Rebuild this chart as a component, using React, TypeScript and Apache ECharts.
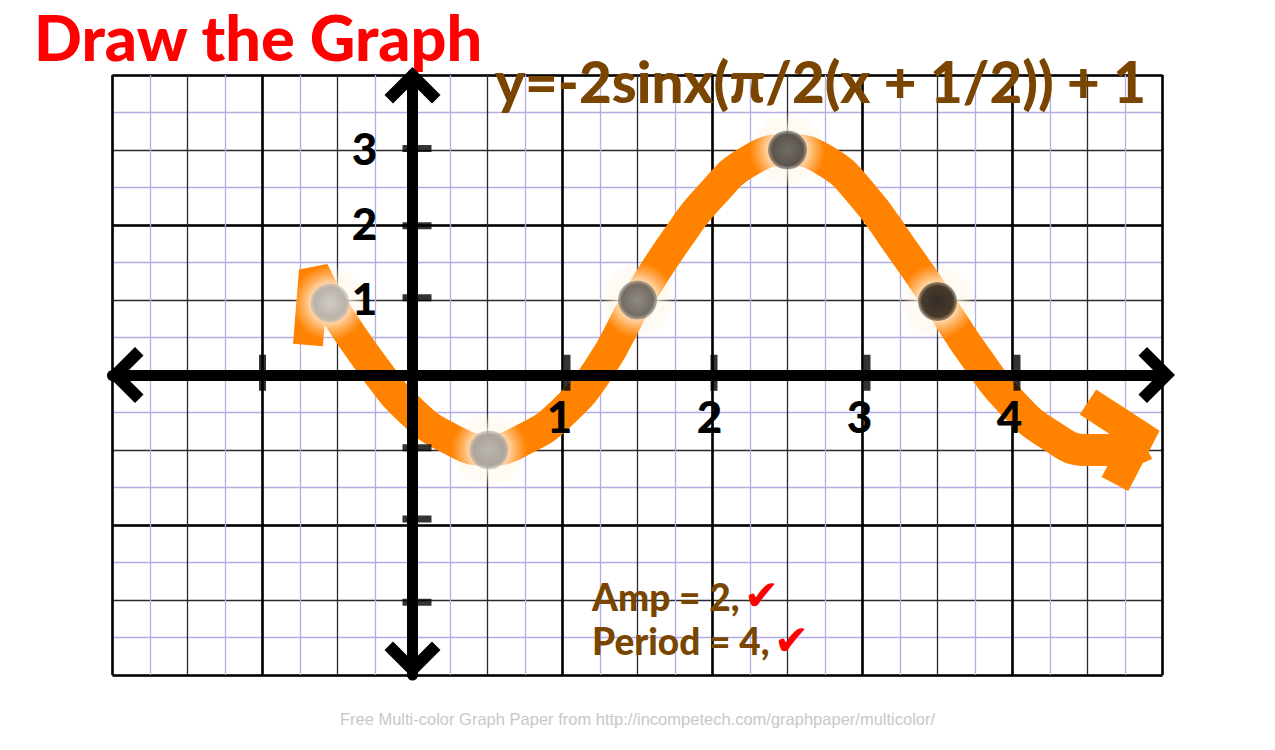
import React, { useEffect, useRef } from 'react';
import * as echarts from 'echarts';

// texts on the sheet
const titleText = 'Draw the Graph';
const formulaText = 'y=-2sinx(π/2(x + 1/2)) + 1';
const ampText = 'Amp = 2,';
const periodText = 'Period = 4,';
const checkText = '✔';
const footerText = 'Free Multi-color Graph Paper from http://incompetech.com/graphpaper/multicolor/';

// graph paper range (one x unit = 4 small squares, one y unit = 2)
const xRange = [-2, 5];
const yRange = [-4, 4];
const xTickLabels = [1, 2, 3, 4];
const yTickLabels = [1, 2, 3];

// hand drawn tick dashes
const xTickMarks = [-1, 1.03, 2.01, 3.03, 4.03];
const yTickMarks = [3.02, 1.99, 1.03, -0.97, -1.92, -3.03];
const tickOffAxis = 0.03;

// the orange curve
const curveX = [-0.55, -0.25, 0, 0.25, 0.5, 0.75, 1.0, 1.25, 1.5, 1.75, 2.0, 2.25, 2.5, 2.75, 3.0, 3.25, 3.5, 3.75, 4.0, 4.25, 4.5, 4.75, 4.88];
const curveY = [0.96, 0.08, -0.5, -0.85, -1.0, -0.85, -0.5, 0.1, 1.0, 1.78, 2.42, 2.86, 3.0, 2.86, 2.4, 1.72, 1.0, 0.25, -0.38, -0.8, -1.0, -1.0, -0.93];

// arrow heads at the ends of the curve
const leftArrowX = [-0.55, -0.657, -0.697];
const leftArrowY = [0.96, 1.39, 0.4];
const rightArrowX = [4.503, 4.85, 4.683];
const rightArrowY = [-0.36, -0.813, -1.453];

// the plotted points
const pointX = [-0.55, 0.51, 1.5, 2.5, 3.5];
const pointY = [0.96, -1, 1, 3, 0.98];
const pointInner = ['#c4c4c4', '#aaaaaa', '#747474', '#4e4e4e', '#000000'];
const pointOuter = ['#a8a8a8', '#979797', '#505050', '#333333', '#1c1208'];

const lavender = '#b3ade3';
const orange = '#ff8200';
const brown = '#7a4500';
const chevron = 'path://M28,0L56,28L47.5,36.5L28,17L8.5,36.5L0,28Z';
const labelFont = {
  fontFamily: 'Lato',
  fontWeight: 900,
  fontSize: 44,
  color: '#000',
  opacity: 1,
  textBorderWidth: 0,
};

const zip = (xs: number[], ys: number[]) => xs.map((x, i) => [x, ys[i]]);

const paperAxis = (interval: number, color: string, width: number, minor: boolean) => ({
  type: 'value',
  interval,
  axisLine: { show: false, onZero: false },
  axisTick: { show: false },
  axisLabel: { show: false },
  splitLine: { show: true, lineStyle: { color, width } },
  minorTick: { show: false, splitNumber: 2 },
  minorSplitLine: { show: minor, lineStyle: { color: lavender, width: 1.3 } },
});

const mainAxis = (range: number[], offsets: number[]) => ({
  type: 'value',
  min: range[0],
  max: range[1],
  interval: 1,
  z: 10,
  axisLine: {
    show: true,
    onZero: true,
    onZeroAxisIndex: 2,
    lineStyle: { color: '#000', width: 11 },
    symbol: [chevron, chevron],
    symbolSize: [56, 36.5],
    symbolOffset: offsets,
  },
  axisTick: { show: false },
  axisLabel: { show: false },
  splitLine: { show: false },
});

const App: React.FC = () => {
  const chartRef = useRef<HTMLDivElement>(null);

  useEffect(() => {
    const myChart = echarts.init(chartRef.current!, null, { renderer: 'svg' });

    const option = {
      animation: false,
      backgroundColor: '#fff',
      grid: { left: 112.5, top: 75, width: 1050, height: 600 },
      xAxis: [
        { ...paperAxis(0.5, '#2a2a2a', 1.3, true), min: xRange[0], max: xRange[1] },
        { ...paperAxis(1, '#000', 2.6, false), min: xRange[0], max: xRange[1] },
        mainAxis(xRange, [12.75, -5.75]),
      ],
      yAxis: [
        { ...paperAxis(1, '#2a2a2a', 1.3, true), min: yRange[0], max: yRange[1] },
        { ...paperAxis(2, '#000', 2.6, false), min: yRange[0], max: yRange[1] },
        mainAxis(yRange, [15.25, -10.25]),
      ],
      graphic: [
        { type: 'text', x: 34, y: 36, style: { text: titleText, fill: '#ff0000', fontFamily: 'Lato', fontWeight: 900, fontSize: 63, verticalAlign: 'middle' } },
        { type: 'text', x: 495, y: 81, z: 20, style: { text: formulaText, fill: brown, fontFamily: 'Lato', fontWeight: 900, fontSize: 56.5, verticalAlign: 'middle' } },
        { type: 'text', x: 592, y: 596, z: 20, style: { text: ampText, fill: brown, fontFamily: 'Lato', fontWeight: 900, fontSize: 37, verticalAlign: 'middle' } },
        { type: 'text', x: 592, y: 640, z: 20, style: { text: periodText, fill: brown, fontFamily: 'Lato', fontWeight: 900, fontSize: 37, verticalAlign: 'middle' } },
        { type: 'text', x: 744, y: 595, z: 20, style: { text: checkText, fill: '#ff0000', fontFamily: 'DejaVu Sans', fontSize: 42, verticalAlign: 'middle' } },
        { type: 'text', x: 774, y: 640, z: 20, style: { text: checkText, fill: '#ff0000', fontFamily: 'DejaVu Sans', fontSize: 42, verticalAlign: 'middle' } },
        { type: 'text', x: 637.5, y: 719, style: { text: footerText, fill: '#c8c8c8', fontFamily: 'Liberation Sans', fontSize: 16.5, align: 'center', verticalAlign: 'middle' } },
      ],
      series: [
        {
          type: 'line',
          xAxisIndex: 2,
          yAxisIndex: 2,
          data: zip(curveX, curveY),
          smooth: 0.5,
          showSymbol: false,
          clip: false,
          silent: true,
          z: 2,
          lineStyle: { color: orange, width: 32, cap: 'butt' },
        },
        {
          type: 'line',
          xAxisIndex: 2,
          yAxisIndex: 2,
          data: zip(leftArrowX, leftArrowY),
          showSymbol: false,
          clip: false,
          silent: true,
          z: 2,
          lineStyle: { color: orange, width: 30, cap: 'butt', join: 'bevel' },
        },
        {
          type: 'line',
          xAxisIndex: 2,
          yAxisIndex: 2,
          data: zip(rightArrowX, rightArrowY),
          showSymbol: false,
          clip: false,
          silent: true,
          z: 2,
          lineStyle: { color: orange, width: 30, cap: 'butt', join: 'miter' },
        },
        {
          // pale glow round each point
          type: 'scatter',
          xAxisIndex: 2,
          yAxisIndex: 2,
          data: zip(pointX, pointY),
          symbolSize: 76,
          silent: true,
          z: 3,
          itemStyle: {
            color: {
              type: 'radial', x: 0.5, y: 0.5, r: 0.5,
              colorStops: [
                { offset: 0, color: 'rgba(255,255,255,1)' },
                { offset: 0.5, color: 'rgba(255,250,240,0.9)' },
                { offset: 1, color: 'rgba(255,230,200,0)' },
              ],
            },
          },
        },
        {
          type: 'scatter',
          xAxisIndex: 2,
          yAxisIndex: 2,
          symbolSize: 39,
          silent: true,
          z: 4,
          data: pointX.map((x, i) => ({
            value: [x, pointY[i]],
            itemStyle: {
              color: {
                type: 'radial', x: 0.5, y: 0.5, r: 0.5,
                colorStops: [
                  { offset: 0, color: pointInner[i] },
                  { offset: 0.8, color: pointOuter[i] },
                  { offset: 1, color: pointOuter[i] + '80' },
                ],
              },
            },
          })),
        },
        {
          type: 'scatter',
          xAxisIndex: 2,
          yAxisIndex: 2,
          data: xTickMarks.map((x) => [x, tickOffAxis]),
          symbol: 'rect',
          symbolSize: [7, 36],
          silent: true,
          z: 11,
          itemStyle: { color: '#000' },
        },
        {
          type: 'scatter',
          xAxisIndex: 2,
          yAxisIndex: 2,
          data: yTickMarks.map((y) => [tickOffAxis, y]),
          symbol: 'rect',
          symbolSize: [29, 7],
          silent: true,
          z: 11,
          itemStyle: { color: '#000' },
        },
        {
          // x tick labels below the axis
          type: 'scatter',
          xAxisIndex: 2,
          yAxisIndex: 2,
          data: xTickLabels.map((x) => [x, 0]),
          symbolSize: 1,
          silent: true,
          z: 12,
          itemStyle: { color: 'transparent' },
          label: {
            show: true,
            position: 'inside',
            offset: [-3, 41],
            formatter: (p: any) => String(p.value[0]),
            ...labelFont,
          },
        },
        {
          // y tick labels left of the axis
          type: 'scatter',
          xAxisIndex: 2,
          yAxisIndex: 2,
          data: yTickLabels.map((y) => [0, y]),
          symbolSize: 1,
          silent: true,
          z: 12,
          itemStyle: { color: 'transparent' },
          label: {
            show: true,
            position: 'inside',
            offset: [-48, -2],
            formatter: (p: any) => String(p.value[1]),
            ...labelFont,
          },
        },
      ],
    };

    myChart.setOption(option as any);

    return () => {
      myChart.dispose();
    };
  }, []);

  return (
    <div
      ref={chartRef}
      style={{ position: 'absolute', left: 0, top: 0, width: '1275px', height: '750px' }}
    />
  );
};

export default App;
